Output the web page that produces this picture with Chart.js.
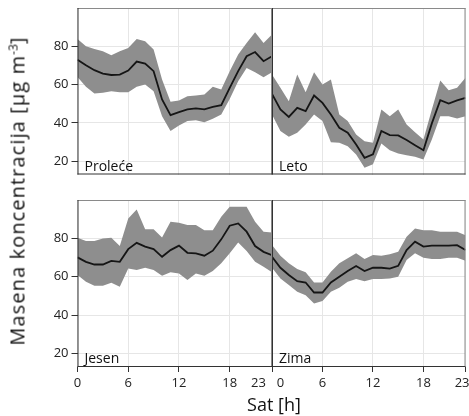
<!DOCTYPE html>
<html lang="sr">
<head>
<meta charset="utf-8">
<title>Masena koncentracija po satu</title>
<script src="https://cdn.jsdelivr.net/npm/chart.js@4.4.1/dist/chart.umd.min.js"></script>
<style>
  html, body { margin: 0; padding: 0; background: #fff; }
  #grafik { position: relative; width: 469px; height: 416px; font-family: 'Open Sans', sans-serif; color: #111; }
  #grafik canvas { position: absolute; left: 0; top: 0; }
  #naslovY { position: absolute; left: 17px; top: 191px; transform: translate(-50%, -50%) rotate(-90deg); white-space: nowrap; font-size: 20px; letter-spacing: 1.1px; }
  #naslovX { position: absolute; left: 274px; top: 404px; transform: translate(-50%, -50%); white-space: nowrap; font-size: 18px; }
  sup { font-size: 0.6em; vertical-align: 0.55em; line-height: 0; letter-spacing: 0; }
</style>
</head>
<body>
<div id="grafik">
  <canvas id="panel0" width="469" height="416"></canvas>
  <canvas id="panel1" width="469" height="416"></canvas>
  <canvas id="panel2" width="469" height="416"></canvas>
  <canvas id="panel3" width="469" height="416"></canvas>
  <div id="naslovY">Masena koncentracija [µg m<sup>-3</sup>]</div>
  <div id="naslovX">Sat [h]</div>
</div>
<script>
// --- PODACI ---
const sati = [0, 1, 2, 3, 4, 5, 6, 7, 8, 9, 10, 11, 12, 13, 14, 15, 16, 17, 18, 19, 20, 21, 22, 23];
const xPodeoci = [0, 6, 12, 18, 23];
const yPodeoci = [20, 40, 60, 80];
const sezone = ['Proleće', 'Leto', 'Jesen', 'Zima'];

// srednja vrednost + gornja i donja granica pojasa
const proleceSr   = [73.0, 70.1, 67.5, 65.7, 65.0, 65.2, 67.3, 72.0, 71.0, 67.0, 52.2, 44.0, 45.6, 47.0, 47.5, 47.0, 48.3, 49.2, 58.3, 67.0, 74.8, 77.0, 72.2, 74.8];
const proleceGore = [83.8, 80.0, 78.6, 77.4, 75.3, 77.4, 79.1, 83.8, 82.6, 78.3, 62.6, 51.0, 51.7, 53.9, 54.3, 54.8, 58.8, 57.4, 67.0, 75.7, 81.7, 87.3, 81.7, 86.1];
const proleceDole = [64.0, 58.8, 55.3, 55.7, 56.5, 56.0, 56.0, 58.8, 60.0, 56.5, 43.5, 35.7, 38.6, 40.9, 41.4, 40.3, 42.1, 44.3, 52.5, 61.7, 68.7, 66.4, 63.8, 66.4];

const letoSr   = [55.1, 47.0, 43.1, 47.8, 46.1, 54.3, 50.4, 44.3, 37.4, 34.8, 28.7, 21.7, 23.5, 35.7, 33.6, 33.4, 31.0, 28.3, 25.7, 39.7, 51.8, 50.1, 51.7, 53.0];
const letoGore = [65.2, 58.3, 51.3, 65.2, 56.0, 66.4, 60.0, 62.6, 44.3, 40.9, 33.9, 30.4, 29.6, 47.0, 43.5, 47.0, 39.1, 35.1, 31.3, 47.0, 62.1, 57.0, 58.3, 63.5];
const letoDole = [44.3, 35.7, 32.7, 34.8, 39.1, 44.3, 40.9, 29.9, 29.6, 27.8, 23.5, 16.5, 18.3, 29.2, 25.7, 24.0, 23.1, 22.3, 20.9, 31.3, 43.5, 43.5, 42.3, 43.5];

const jesenSr   = [70.1, 67.8, 66.4, 66.4, 68.3, 67.8, 74.4, 77.7, 75.7, 74.4, 70.4, 73.9, 76.2, 72.5, 72.2, 71.0, 73.6, 79.5, 86.6, 87.8, 83.5, 76.0, 73.0, 71.3];
const jesenGore = [80.3, 78.6, 78.6, 80.0, 80.3, 76.0, 90.4, 95.1, 84.7, 84.7, 80.5, 88.7, 88.2, 87.0, 87.0, 84.3, 84.3, 91.3, 96.5, 96.5, 96.5, 88.7, 83.5, 83.1];
const jesenDole = [60.9, 57.4, 55.3, 55.3, 56.9, 54.8, 64.3, 63.5, 64.7, 63.5, 60.5, 62.3, 61.7, 58.3, 61.7, 60.5, 63.0, 67.0, 72.2, 77.9, 73.4, 67.8, 65.2, 62.3];

const zimaSr   = [70.4, 64.7, 60.9, 57.7, 57.0, 51.8, 51.8, 57.0, 60.0, 63.0, 65.6, 63.0, 64.7, 64.7, 64.3, 65.7, 73.9, 78.3, 75.7, 76.2, 76.2, 76.2, 76.5, 73.9];
const zimaGore = [76.5, 71.0, 67.0, 64.0, 62.3, 57.0, 57.0, 62.6, 67.0, 69.6, 72.2, 69.2, 71.3, 71.0, 71.7, 73.0, 80.9, 85.2, 84.3, 84.3, 83.5, 83.5, 83.5, 81.7];
const zimaDole = [64.7, 59.1, 55.7, 52.2, 50.4, 46.1, 47.4, 52.2, 54.3, 57.4, 58.8, 57.7, 58.8, 58.8, 59.1, 60.0, 68.7, 72.2, 69.9, 69.2, 69.2, 69.9, 69.9, 68.3];

// --- IZGLED ---
const Y_MIN = 13, Y_MAX = 100;
const BOJA_POJASA = '#8e8e8e';
const BOJA_LINIJE = '#151515';
const BOJA_MREZE = '#e6e6e6';

Chart.defaults.font.family = "'Open Sans', sans-serif";
Chart.defaults.color = '#222';

const paneli = [
    { id: 'panel0', naziv: sezone[0], sr: proleceSr, gore: proleceGore, dole: proleceDole, levo: true,  dno: false },
    { id: 'panel1', naziv: sezone[1], sr: letoSr,    gore: letoGore,    dole: letoDole,    levo: false, dno: false },
    { id: 'panel2', naziv: sezone[2], sr: jesenSr,   gore: jesenGore,   dole: jesenDole,   levo: true,  dno: true },
    { id: 'panel3', naziv: sezone[3], sr: zimaSr,    gore: zimaGore,    dole: zimaDole,    levo: false, dno: true }
];

// okvir panela: levo i dole tamno, gore i desno svetlije
const okvir = {
    id: 'okvir',
    afterDatasetsDraw(chart) {
        const { ctx, chartArea: a } = chart;
        ctx.save();
        ctx.lineWidth = 1;
        ctx.strokeStyle = '#8a8a8a';
        ctx.beginPath();
        ctx.moveTo(a.left, a.top + 0.5); ctx.lineTo(a.right, a.top + 0.5);
        ctx.moveTo(a.right - 0.5, a.top); ctx.lineTo(a.right - 0.5, a.bottom);
        ctx.stroke();
        ctx.strokeStyle = '#333';
        ctx.beginPath();
        ctx.moveTo(a.left + 0.5, a.top); ctx.lineTo(a.left + 0.5, a.bottom);
        ctx.moveTo(a.left, a.bottom - 0.5); ctx.lineTo(a.right, a.bottom - 0.5);
        ctx.stroke();
        ctx.restore();
    }
};

// naziv sezone u donjem levom uglu
const natpis = {
    id: 'natpis',
    afterDatasetsDraw(chart, args, opts) {
        const { ctx, chartArea: a } = chart;
        ctx.save();
        ctx.font = "14px 'Open Sans', sans-serif";
        ctx.fillStyle = '#111';
        ctx.textBaseline = 'alphabetic';
        ctx.fillText(opts.tekst, a.left + 7, a.bottom - 4);
        ctx.restore();
    }
};

function bezMargina(scale) {
    scale.paddingTop = 0; scale.paddingBottom = 0;
    scale.paddingLeft = 0; scale.paddingRight = 0;
}

function napraviPanel(p) {
    return new Chart(document.getElementById(p.id), {
        type: 'line',
        data: {
            labels: sati,
            // prvi skup se crta poslednji, pa je linija iznad pojasa
            datasets: [
                { data: p.sr, fill: false, borderColor: BOJA_LINIJE, borderWidth: 1.8, pointRadius: 0, tension: 0 },
                { data: p.gore, fill: '+1', backgroundColor: BOJA_POJASA, borderColor: 'transparent', borderWidth: 0, pointRadius: 0 },
                { data: p.dole, fill: false, borderColor: 'transparent', borderWidth: 0, pointRadius: 0 }
            ]
        },
        options: {
            responsive: false,
            animation: false,
            devicePixelRatio: 1,
            layout: {
                padding: {
                    left: p.levo ? 0 : 272,
                    right: p.levo ? 197 : 3.5,
                    top: p.dno ? 200 : 8,
                    bottom: p.dno ? 23 : 241.5
                }
            },
            plugins: {
                legend: { display: false },
                tooltip: { enabled: false },
                natpis: { tekst: p.naziv }
            },
            scales: {
                x: {
                    type: 'linear',
                    min: 0,
                    max: 23,
                    afterBuildTicks: s => { s.ticks = xPodeoci.map(v => ({ value: v })); },
                    afterFit: s => { s.height = p.dno ? 26 : 0; bezMargina(s); },
                    border: { display: false },
                    grid: { color: BOJA_MREZE, drawTicks: p.dno, tickLength: 5, tickColor: '#333' },
                    ticks: {
                        display: p.dno,
                        autoSkip: false,
                        maxRotation: 0,
                        padding: 3,
                        font: { size: 13 },
                        callback: v => {
                            // 23 levog i 0 desnog panela se razmiču
                            if (v === 23 && p.levo) return '23' + ' '.repeat(8);
                            if (v === 0 && !p.levo) return ' '.repeat(5) + '0';
                            if (v === 23) return '23' + '  ';
                            return String(v);
                        }
                    }
                },
                y: {
                    min: Y_MIN,
                    max: Y_MAX,
                    afterBuildTicks: s => { s.ticks = yPodeoci.map(v => ({ value: v })); },
                    afterFit: s => { s.width = p.levo ? 77.5 : 0; bezMargina(s); },
                    border: { display: false },
                    grid: { color: BOJA_MREZE, drawTicks: p.levo, tickLength: 6, tickColor: '#333' },
                    ticks: { display: p.levo, padding: 3, font: { size: 13 } }
                }
            }
        },
        plugins: [okvir, natpis]
    });
}

paneli.forEach(napraviPanel);
</script>
</body>
</html>
